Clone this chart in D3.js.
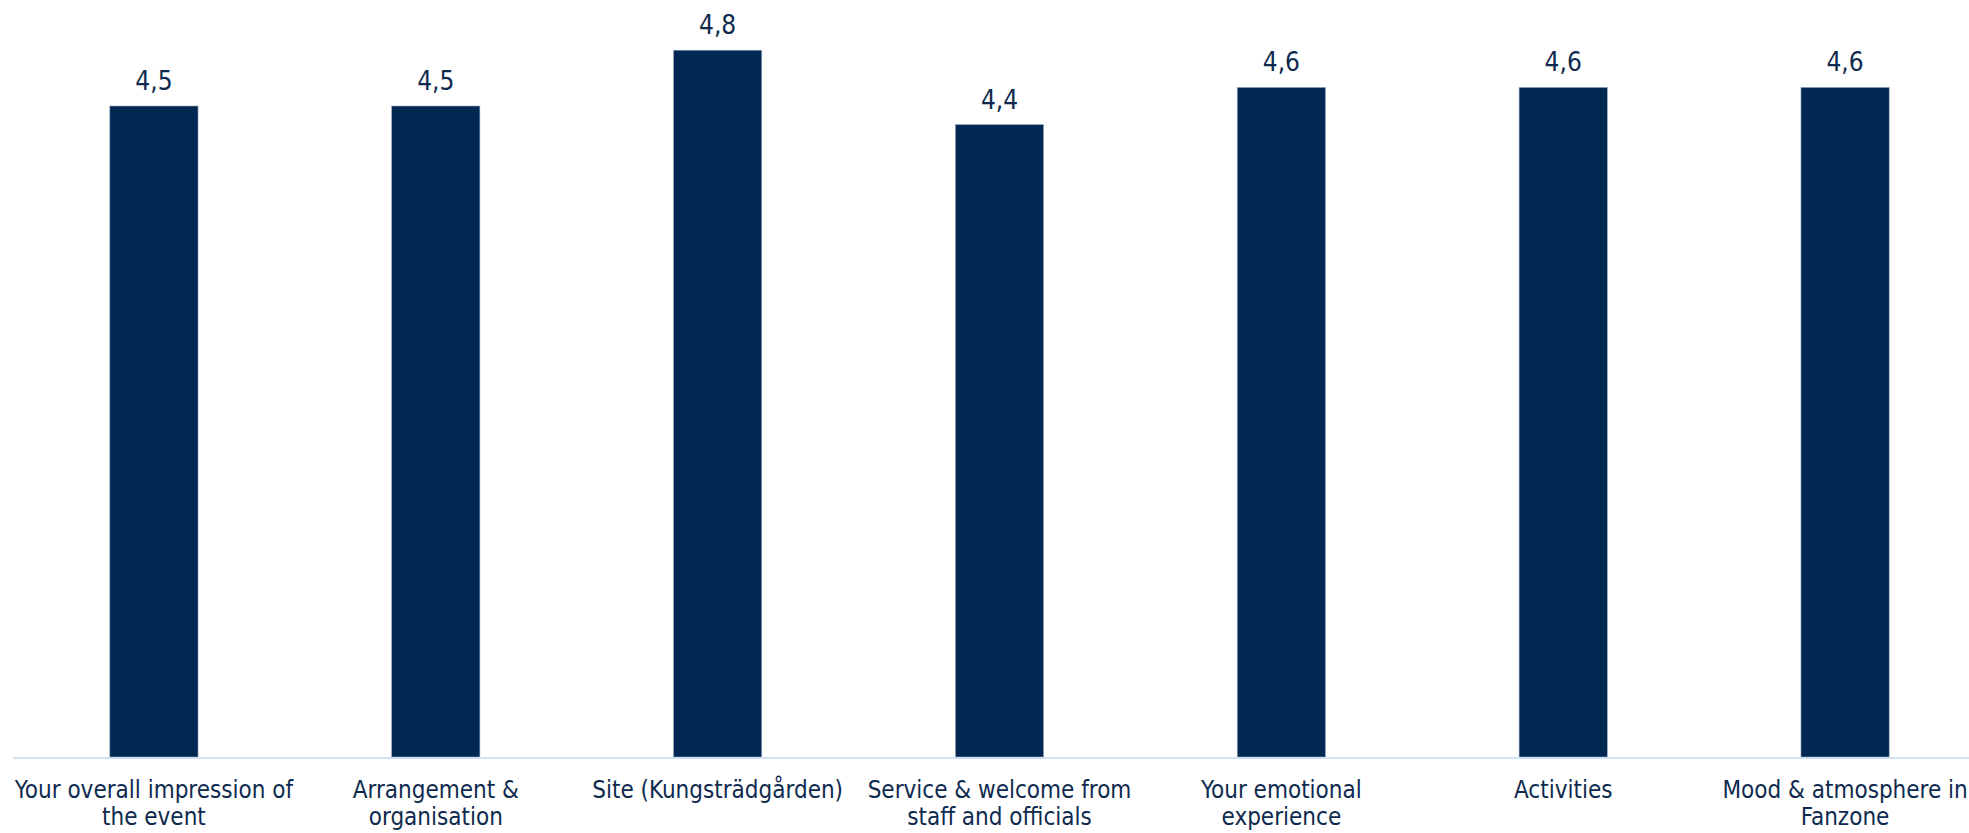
<!DOCTYPE html>
<html>
<head>
<meta charset="utf-8">
<script src="https://cdn.jsdelivr.net/npm/d3@7"></script>
<style>
  html, body { margin: 0; padding: 0; background: #ffffff; }
  svg { display: block; }
  text { font-family: "DejaVu Sans Condensed", "DejaVu Sans", sans-serif; }
</style>
</head>
<body>
<div id="chart"></div>
<script>
// ---- data ----
const categories = [
  "Your overall impression of\nthe event",
  "Arrangement &\norganisation",
  "Site (Kungsträdgården)",
  "Service & welcome from\nstaff and officials",
  "Your emotional\nexperience",
  "Activities",
  "Mood & atmosphere in\nFanzone"
];
const values = [4.5, 4.5, 4.8, 4.4, 4.6, 4.6, 4.6];
const yDomain = [1, 5];

// ---- layout ----
const W = 1969, H = 833;
const barColor = "#012852";
const textColor = "#0e2a4e";
const axisColor = "#c2d9f0";

const svg = d3.select("#chart").append("svg")
  .attr("width", W).attr("height", H);

const x = d3.scaleBand()
  .domain(categories)
  .range([13, 1986])
  .paddingInner(0.687)
  .paddingOuter(0.3435);

const y = d3.scaleLinear()
  .domain(yDomain)
  .range([757, 13]);

const fmt = d3.formatLocale({decimal: ",", thousands: " ", grouping: [3], currency: ["", ""]}).format(".1f");

// bars
svg.append("g").selectAll("rect")
  .data(values)
  .join("rect")
  .attr("x", (d, i) => x(categories[i]))
  .attr("y", d => y(d))
  .attr("width", x.bandwidth())
  .attr("height", d => y(yDomain[0]) - y(d))
  .attr("fill", barColor)
  .attr("stroke", "#9aaac0")
  .attr("stroke-width", 0.6);

// axis baseline
const xAxis = d3.axisBottom(x).tickSize(0).tickFormat("");
const ax = svg.append("g")
  .attr("transform", `translate(0,${y(yDomain[0]) + 1})`)
  .call(xAxis);
ax.select(".domain")
  .attr("d", `M13,0H${W}`)
  .attr("stroke", axisColor)
  .attr("stroke-width", 1.6);

// value labels
svg.append("g").selectAll("text")
  .data(values)
  .join("text")
  .attr("x", (d, i) => x(categories[i]) + x.bandwidth() / 2)
  .attr("y", d => y(d) - 16)
  .attr("text-anchor", "middle")
  .attr("font-size", 26)
  .attr("fill", textColor)
  .text(d => fmt(d));

// category labels
const lab = svg.append("g").selectAll("text")
  .data(categories)
  .join("text")
  .attr("x", d => x(d) + x.bandwidth() / 2)
  .attr("y", 798)
  .attr("text-anchor", "middle")
  .attr("font-size", 24)
  .attr("fill", textColor);
lab.each(function(d) {
  const t = d3.select(this);
  d.split("\n").forEach((line, j) => {
    t.append("tspan")
      .attr("x", x(d) + x.bandwidth() / 2)
      .attr("dy", j === 0 ? 0 : 27)
      .text(line);
  });
});
</script>
</body>
</html>
